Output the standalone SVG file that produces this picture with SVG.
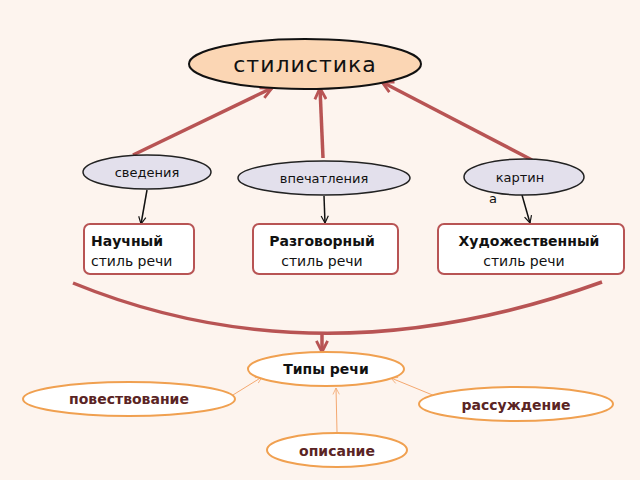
<svg xmlns="http://www.w3.org/2000/svg" width="640" height="480" viewBox="0 0 640 480">
<style>
text{font-family:"DejaVu Sans","Noto Sans",sans-serif;fill:#111}
.ov{fill:#e3e0ec;stroke:#222;stroke-width:1.5}
.box{fill:#fff;stroke:#b85454;stroke-width:2}
.ty{fill:#fff;stroke:#f0a050;stroke-width:2}
.red{stroke:#b85454;stroke-width:3.5;fill:none}
.blk{stroke:#111;stroke-width:1.5;fill:none}
.org{stroke:#f4a870;stroke-width:1;fill:none}
.b{font-weight:bold;font-size:14px}
.dr{fill:#5a2424;font-weight:bold;font-size:14px}
</style>
<defs>
<marker id="mr" viewBox="0 0 10 10" refX="9" refY="5" markerWidth="4" markerHeight="4" orient="auto"><path d="M1,1 L9,5 L1,9" fill="none" stroke="#b85454" stroke-width="2"/></marker>
<marker id="mb" viewBox="0 0 10 10" refX="9" refY="5" markerWidth="6" markerHeight="6" orient="auto"><path d="M1,1 L9,5 L1,9" fill="none" stroke="#111" stroke-width="1.3"/></marker>
<marker id="mo" viewBox="0 0 10 10" refX="9" refY="5" markerWidth="8" markerHeight="8" orient="auto"><path d="M1,1 L9,5 L1,9" fill="none" stroke="#f4a870" stroke-width="1"/></marker>
</defs>
<rect width="640" height="480" fill="#fdf4ee"/>
<g id="connectors">
<path class="red" d="M133,155 L272,88" marker-end="url(#mr)"/>
<path class="red" d="M323,158 L320,88" marker-end="url(#mr)"/>
<path class="red" d="M532,160 L382,82" marker-end="url(#mr)"/>
<path class="blk" d="M147,190 L141,224" marker-end="url(#mb)"/>
<path class="blk" d="M324,196 L325,223" marker-end="url(#mb)"/>
<path class="blk" d="M522,195 L530,223" marker-end="url(#mb)"/>
<path class="red" d="M73,283 Q320,384 602,282"/>
<path class="red" d="M322,332 L322,352" stroke-width="2.5" marker-end="url(#mr)"/>
<path class="org" d="M220,403 L262,377" marker-end="url(#mo)"/>
<path class="org" d="M337,432 L336,388" marker-end="url(#mo)"/>
<path class="org" d="M435,396 L391,378" marker-end="url(#mo)"/>
</g>
<g id="stilistika"><ellipse cx="305" cy="64" rx="116" ry="25" fill="#fbd6b4" stroke="#111" stroke-width="2"/><text x="305" y="72" font-size="22" text-anchor="middle" letter-spacing="1">стилистика</text></g>
<g id="svedeniya"><ellipse class="ov" cx="147" cy="172" rx="64" ry="17"/><text x="147" y="177" font-size="13" text-anchor="middle">сведения</text></g>
<g id="vpechatleniya"><ellipse class="ov" cx="324" cy="178" rx="86" ry="17"/><text x="324" y="183" font-size="13" text-anchor="middle">впечатления</text></g>
<g id="kartina"><ellipse class="ov" cx="524" cy="177" rx="60" ry="18"/><text x="520" y="182" font-size="13" text-anchor="middle">картин</text><text x="489" y="203" font-size="13">а</text></g>
<g id="nauchny"><rect class="box" x="84" y="224" width="110" height="50" rx="6"/><text x="91" y="246" class="b">Научный</text><text x="91" y="266" font-size="14">стиль речи</text></g>
<g id="razgovorny"><rect class="box" x="253" y="224" width="145" height="50" rx="6"/><text x="322" y="246" class="b" text-anchor="middle">Разговорный</text><text x="322" y="266" font-size="14" text-anchor="middle">стиль речи</text></g>
<g id="hudozh"><rect class="box" x="438" y="224" width="186" height="50" rx="6"/><text x="529" y="246" class="b" text-anchor="middle">Художественный</text><text x="524" y="266" font-size="14" text-anchor="middle">стиль речи</text></g>
<g id="tipy"><ellipse class="ty" cx="326" cy="369" rx="78" ry="17"/><text x="326" y="374" class="b" text-anchor="middle">Типы речи</text></g>
<g id="povestv"><ellipse class="ty" cx="129" cy="399" rx="106" ry="17"/><text x="129" y="404" class="dr" text-anchor="middle">повествование</text></g>
<g id="rassuzh"><ellipse class="ty" cx="516" cy="404" rx="97" ry="17"/><text x="516" y="410" class="dr" text-anchor="middle">рассуждение</text></g>
<g id="opisanie"><ellipse class="ty" cx="337" cy="450" rx="70" ry="17"/><text x="337" y="456" class="dr" text-anchor="middle">описание</text></g>
</svg>
